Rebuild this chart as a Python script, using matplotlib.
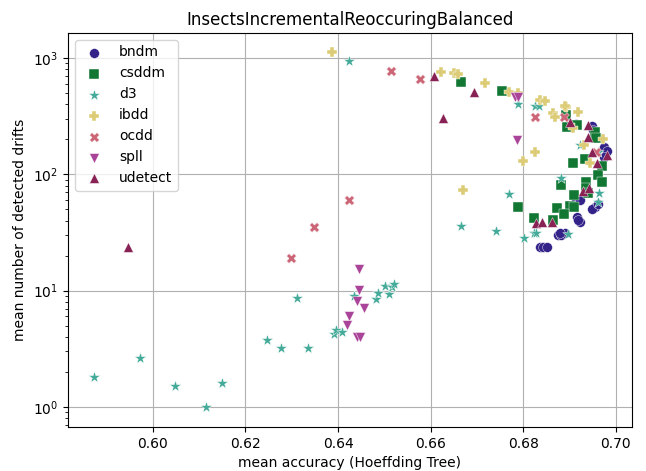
import matplotlib
matplotlib.use("Agg")
import matplotlib.pyplot as plt

# mean accuracy / mean number of detected drifts per detector
bndm_x = [0.6950, 0.6952, 0.6976, 0.6981, 0.6976, 0.6914, 0.6914, 0.6922, 0.6955, 0.6950,
          0.6961, 0.6916, 0.6922, 0.6918, 0.6875, 0.6883, 0.6890, 0.6836, 0.6844, 0.6851, 0.6879]
bndm_y = [260, 240, 172, 158, 141, 271, 61.4, 60.1, 52.3, 50.3,
          55.6, 42.9, 38.9, 40.4, 30.1, 30.1, 31.3, 23.7, 23.7, 23.7, 31.3]

csddm_x = [0.6665, 0.6754, 0.6892, 0.6894, 0.6916, 0.6955, 0.6957, 0.6933, 0.6909, 0.6970,
           0.6963, 0.6970, 0.6883, 0.6935, 0.6937, 0.6911, 0.6940, 0.6901, 0.6911, 0.6873,
           0.6888, 0.6788, 0.6823, 0.6864]
csddm_y = [622, 520, 324, 255, 266, 231, 205, 136, 125, 118,
           98.6, 85.9, 80.9, 85.9, 76.2, 66.4, 69.0, 53.3, 52.3, 51.3,
           45.6, 52.3, 42.1, 40.4]

d3_x = [0.5873, 0.5972, 0.6048, 0.6114, 0.6149, 0.6246, 0.6276, 0.6335, 0.6311, 0.6391,
        0.6395, 0.6408, 0.6434, 0.6482, 0.6486, 0.6501, 0.6510, 0.6516, 0.6521, 0.6423,
        0.6665, 0.6741, 0.6769, 0.6803, 0.6823, 0.6827, 0.6881, 0.6898, 0.6965, 0.6963,
        0.6790, 0.6825, 0.6834, 0.6924, 0.6963]
d3_y = [1.81, 2.63, 1.51, 1.0, 1.60, 3.76, 3.2, 3.2, 8.6, 4.24,
        4.58, 4.40, 9.0, 8.5, 9.5, 11.0, 9.4, 10.7, 11.4, 943,
        35.9, 32.5, 67.8, 28.3, 31.3, 31.0, 92.9, 30.7, 69.0, 57.8,
        402, 386, 386, 179, 156]

ibdd_x = [0.6387, 0.6622, 0.6650, 0.6659, 0.6717, 0.6769, 0.6788, 0.6836, 0.6847, 0.6864,
          0.6868, 0.6892, 0.6918, 0.6907, 0.6931, 0.6972, 0.6944, 0.6825, 0.6799, 0.6670, 0.6890]
ibdd_y = [1126, 758, 744, 728, 609, 511, 500, 435, 427, 337,
          311, 379, 344, 250, 179, 201, 125, 156, 130, 73.3, 387]

ocdd_x = [0.6514, 0.6577, 0.6423, 0.6348, 0.6298, 0.6825, 0.6888, 0.6957]
ocdd_y = [773, 659, 60.1, 35.3, 19.1, 311, 311, 156]

spll_x = [0.6782, 0.6790, 0.6786, 0.6445, 0.6445, 0.6441, 0.6456, 0.6423, 0.6419, 0.6441, 0.6447]
spll_y = [462, 462, 197, 15.4, 10.1, 8.1, 7.1, 6.05, 5.06, 3.99, 3.99]

udetect_x = [0.5946, 0.6607, 0.6693, 0.6626, 0.6901, 0.6940, 0.6940, 0.6950, 0.6981, 0.6959,
             0.6929, 0.6942, 0.6827, 0.6842, 0.6862]
udetect_y = [23.7, 700, 511, 305, 282, 266, 209, 156, 147, 125,
             71.8, 76.2, 38.1, 38.9, 38.9]

series = [
    ("bndm", bndm_x, bndm_y, "o", "#332288"),
    ("csddm", csddm_x, csddm_y, "s", "#117733"),
    ("d3", d3_x, d3_y, "*", "#44AA99"),
    ("ibdd", ibdd_x, ibdd_y, "P", "#DDCC77"),
    ("ocdd", ocdd_x, ocdd_y, "X", "#CC6677"),
    ("spll", spll_x, spll_y, "v", "#AA4499"),
    ("udetect", udetect_x, udetect_y, "^", "#882255"),
]

fig = plt.figure(figsize=(6.46, 4.71), dpi=100)
ax = fig.add_axes([0.105, 0.093, 0.873, 0.837])

for name, xs, ys, m, c in series:
    size = 75 if m == "*" else 50
    ax.scatter(xs, ys, marker=m, color=c, s=size, edgecolors="white", linewidths=0.3,
               label=name, zorder=3)

ax.set_yscale("log")
ax.set_xlim(0.5816, 0.7035)
ax.set_ylim(0.67, 1640)
ax.grid(True, which="major", color="#b0b0b0", linewidth=0.8)
ax.set_axisbelow(True)

ax.set_title("InsectsIncrementalReoccuringBalanced")
ax.set_xlabel("mean accuracy (Hoeffding Tree)")
ax.set_ylabel("mean number of detected drifts")
ax.legend(loc="upper left")

fig.savefig("out.png", dpi=100)
